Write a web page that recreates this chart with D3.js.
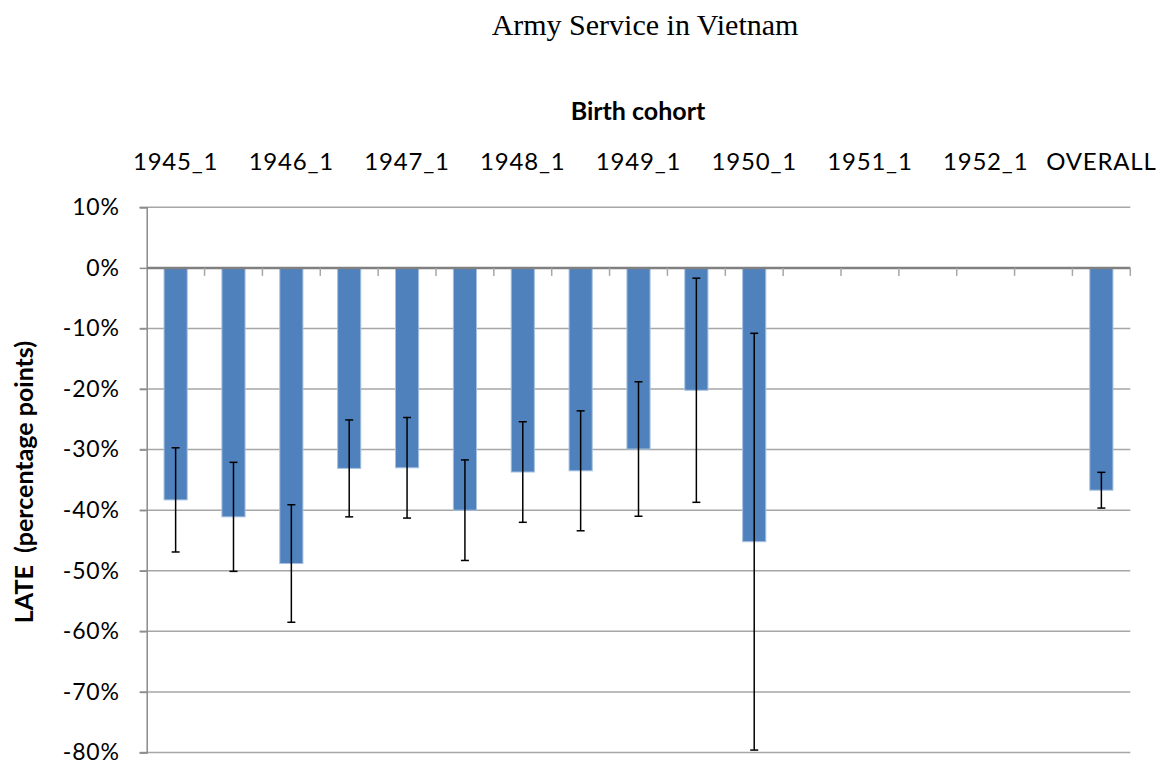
<!DOCTYPE html>
<html>
<head>
<meta charset="utf-8">
<script src="https://cdn.jsdelivr.net/npm/d3@7"></script>
<style>
  body { margin: 0; background: #fff; }
  svg text { fill: #000; }
</style>
</head>
<body>
<div id="chart"><svg></svg></div>
<script>
// half-year birth cohorts + the pooled estimate
const categories = [
  "1945_1", "1945_2", "1946_1", "1946_2", "1947_1", "1947_2",
  "1948_1", "1948_2", "1949_1", "1949_2", "1950_1", "1950_2",
  "1951_1", "1951_2", "1952_1", "1952_2", "OVERALL"
];
// LATE in percentage points (null = no estimate)
const late = [
  -38.3, -41.1, -48.8, -33.1, -33.0, -40.0,
  -33.7, -33.5, -29.9, -20.2, -45.2, null,
  null, null, null, null, -36.7
];
// half-width of the error bars, percentage points
const errorHalf = [
  8.6, 9.0, 9.7, 8.0, 8.3, 8.3,
  8.3, 9.9, 11.1, 18.5, 34.4, null,
  null, null, null, null, 2.95
];
const tickLabels = ["1945_1", "1946_1", "1947_1", "1948_1", "1949_1", "1950_1", "1951_1", "1952_1", "OVERALL"];
const yTicks = [10, 0, -10, -20, -30, -40, -50, -60, -70, -80];

const data = categories.map((c, i) => ({ cat: c, value: late[i], err: errorHalf[i] }));

const width = 1163, height = 765;
const margin = { top: 207.3, right: 32.7, bottom: 12.5, left: 146.7 };
const sansFont = "Lato, 'Open Sans', sans-serif";

const svg = d3.select("#chart > svg")
  .attr("width", width)
  .attr("height", height);

const x = d3.scaleBand()
  .domain(categories)
  .range([margin.left, width - margin.right])
  .paddingInner(0.6)
  .paddingOuter(0.3);

const xOuter = d3.scaleBand()
  .domain(categories)
  .range([margin.left, width - margin.right]);

const y = d3.scaleLinear()
  .domain([-80, 10])
  .range([height - margin.bottom, margin.top]);

// title
svg.append("text")
  .attr("x", 645)
  .attr("y", 35)
  .attr("text-anchor", "middle")
  .style("font-family", "'Liberation Serif', 'DejaVu Serif', serif")
  .style("font-size", "30px")
  .text("Army Service in Vietnam");

// gridlines
svg.append("g")
  .selectAll("line")
  .data(yTicks.filter(d => d !== 0))
  .join("line")
  .attr("x1", margin.left - 7)
  .attr("x2", width - margin.right)
  .attr("y1", d => y(d))
  .attr("y2", d => y(d))
  .attr("stroke", "#a6a6a6")
  .attr("stroke-width", 1.5);

// left axis
const yAxis = svg.append("g")
  .attr("transform", `translate(${margin.left},0)`)
  .call(d3.axisLeft(y).tickValues(yTicks).tickFormat(d => d + "%").tickSize(7).tickPadding(20));
yAxis.select(".domain").attr("stroke", "#8c8c8c").attr("stroke-width", 1.5);
yAxis.selectAll(".tick line").attr("stroke", "#8c8c8c").attr("stroke-width", 1.5);
yAxis.selectAll(".tick text")
  .style("font-family", sansFont)
  .style("font-size", "23px")
  .style("letter-spacing", "0.8px")
  .attr("fill", "#000");

// bars
svg.append("g")
  .selectAll("rect")
  .data(data.filter(d => d.value !== null))
  .join("rect")
  .attr("x", d => x(d.cat))
  .attr("width", x.bandwidth())
  .attr("y", y(0))
  .attr("height", d => y(d.value) - y(0))
  .attr("fill", "#4f81bd")
  .attr("stroke", "#a7c0e0")
  .attr("stroke-width", 1);

// zero line with category ticks
const xAxis = svg.append("g")
  .attr("transform", `translate(0,${y(0)})`);
xAxis.append("line")
  .attr("x1", margin.left)
  .attr("x2", width - margin.right)
  .attr("stroke", "#808080")
  .attr("stroke-width", 2.5);
xAxis.selectAll(".cat-tick")
  .data(categories.map(c => xOuter(c) + xOuter.bandwidth()))
  .join("line")
  .attr("class", "cat-tick")
  .attr("x1", d => d)
  .attr("x2", d => d)
  .attr("y1", 0)
  .attr("y2", 8)
  .attr("stroke", "#a6a6a6")
  .attr("stroke-width", 1.5);

// error bars
const errG = svg.append("g")
  .selectAll("g")
  .data(data.filter(d => d.value !== null))
  .join("g")
  .attr("transform", d => `translate(${x(d.cat) + x.bandwidth() / 2},0)`);
errG.append("line")
  .attr("y1", d => y(d.value + d.err))
  .attr("y2", d => y(d.value - d.err))
  .attr("stroke", "#000")
  .attr("stroke-width", 1.5);
errG.selectAll(".cap")
  .data(d => [d.value + d.err, d.value - d.err])
  .join("line")
  .attr("class", "cap")
  .attr("x1", -4)
  .attr("x2", 4)
  .attr("y1", v => y(v))
  .attr("y2", v => y(v))
  .attr("stroke", "#000")
  .attr("stroke-width", 1.5);

// category labels along the top
svg.append("g")
  .selectAll("text")
  .data(tickLabels)
  .join("text")
  .attr("x", d => xOuter(d) + xOuter.bandwidth() / 2)
  .attr("y", 170)
  .attr("text-anchor", "middle")
  .style("font-family", sansFont)
  .style("font-size", "24px")
  .style("letter-spacing", "0.8px")
  .text(d => d);

// axis titles
svg.append("text")
  .attr("x", 638)
  .attr("y", 120)
  .attr("text-anchor", "middle")
  .style("font-family", sansFont)
  .style("font-size", "25px")
  .style("font-weight", "bold")
  .text("Birth cohort");

svg.append("text")
  .attr("transform", "translate(33,482) rotate(-90)")
  .attr("text-anchor", "middle")
  .style("font-family", sansFont)
  .style("font-size", "25px")
  .style("font-weight", "bold")
  .style("white-space", "pre")
  .text("LATE  (percentage points)");
</script>
</body>
</html>
